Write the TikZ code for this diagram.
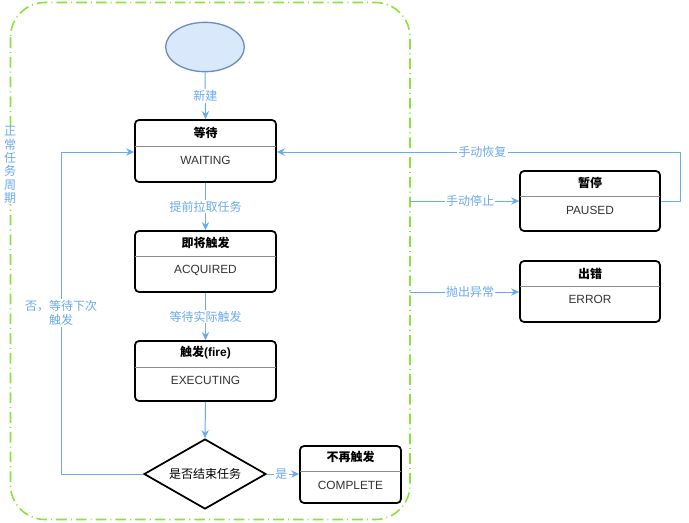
\documentclass[tikz,border=0pt]{standalone}
\usepackage{fontspec}
\setmainfont{Liberation Sans}
\newfontfamily\cjk{Noto Sans CJK SC}
\usetikzlibrary{arrows.meta,shapes.geometric,fit,shadows}
\definecolor{linkblue}{HTML}{6AAAEE}
\definecolor{labblue}{HTML}{6AAAEE}
\definecolor{limegreen}{HTML}{8CE23C}
\definecolor{ellfill}{HTML}{DAE8FC}
\definecolor{ellline}{HTML}{6C8EBF}
\definecolor{divgray}{HTML}{8C8C8C}
\definecolor{bodytext}{HTML}{333333}
\tikzset{
  container/.style={draw=limegreen, line width=1.2pt, rounded corners=26pt,
    dash pattern=on 8pt off 3pt on 0.8pt off 3pt},
  statebox/.style={draw=black, line width=1.3pt, rounded corners=3pt, fill=white,
    inner sep=0pt, drop shadow={shadow xshift=0.6pt, shadow yshift=-0.6pt, opacity=0.35}},
  divider/.style={draw=divgray, line width=0.6pt},
  headtext/.style={font=\cjk\bfseries\fontsize{9pt}{10pt}\selectfont, text=black, inner sep=0pt},
  bodytxt/.style={font=\fontsize{8.9pt}{10pt}\selectfont, text=bodytext, inner sep=0pt},
  link/.style={draw=linkblue, line width=0.75pt, -{Stealth[length=6pt,width=5.5pt]}},
  linklabel/.style={font=\cjk\fontsize{9pt}{10pt}\selectfont, text=labblue, fill=white,
    inner sep=1pt},
}
\begin{document}
\begin{tikzpicture}[x=0.75pt, y=-0.75pt]
\useasboundingbox (0,0) rectangle (689,522);
% container
\draw[container] (10.5,2.5) rectangle (410,519.5);
% start ellipse
\node[ellipse, draw=ellline, fill=ellfill, line width=1pt, minimum width=59pt, minimum height=37pt, inner sep=0pt] (start) at (205,47) {};
% WAITING
\node[statebox, fit={(135,120) (276,182)}] (wait) {};
\draw[divider] (135,146) -- (276,146);
\node[headtext] (waith) at (205.5,133) {等待};
\node[bodytxt] (waitb) at (205.5,160) {WAITING};
% ACQUIRED
\node[statebox, fit={(135,231) (276,292)}] (acq) {};
\draw[divider] (135,256) -- (276,256);
\node[headtext] (acqh) at (205.5,243) {即将触发};
\node[bodytxt] (acqb) at (205.5,270) {ACQUIRED};
% EXECUTING
\node[statebox, fit={(135,341) (276,401)}] (exe) {};
\draw[divider] (135,367) -- (276,367);
\node[headtext] (exeh) at (205.5,353) {触发{\normalfont\bfseries (fire)}};
\node[bodytxt] (exeb) at (205.5,380) {EXECUTING};
% decision
\node[diamond, draw=black, line width=1.3pt, fill=white, minimum width=91.5pt, minimum height=52.5pt, inner sep=0pt, aspect=1.74] (dec) at (205,474) {};
\node[font=\cjk\fontsize{9pt}{10pt}\selectfont, inner sep=0pt] (dect) at (205,474) {是否结束任务};
% COMPLETE
\node[statebox, fit={(300,446) (401,503)}] (comp) {};
\draw[divider] (300,471) -- (401,471);
\node[headtext] (comph) at (350.5,457) {不再触发};
\node[bodytxt] (compb) at (350.5,485) {COMPLETE};
% PAUSED
\node[statebox, fit={(520,171) (660,231)}] (pause) {};
\draw[divider] (520,196) -- (660,196);
\node[headtext] (pauseh) at (590,183) {暂停};
\node[bodytxt] (pauseb) at (590,210) {PAUSED};
% ERROR
\node[statebox, fit={(520,261) (660,322)}] (err) {};
\draw[divider] (520,286) -- (660,286);
\node[headtext] (errh) at (590,274) {出错};
\node[bodytxt] (errb) at (590,299) {ERROR};
% side coordinates
\coordinate (stopsrc) at (410,201);
\coordinate (errsrc) at (410,292);
\coordinate (loopL) at (61,474);
\coordinate (loopT) at (61,152);
\coordinate (resR) at (680,201);
\coordinate (resT) at (680,152);
% connectors
\draw[link] (start.south) -- node[linklabel, pos=0.5] {新建} (wait.north);
\draw[link] (wait.south) -- node[linklabel, pos=0.5] {提前拉取任务} (acq.north);
\draw[link] (acq.south) -- node[linklabel, pos=0.5] {等待实际触发} (exe.north);
\draw[link] (exe.south) -- (dec.north);
\draw[link] (dec.east) -- node[linklabel, pos=0.45] {是} (comp.west |- dec.east);
\draw[link] (dec.west) -- (loopL) -- node[linklabel, pos=0.5, align=center] {否，等待下次\\触发} (loopT) -- (wait.west |- loopT);
\draw[link] (pause.east |- resR) -- (resR) -- (resT) -- node[linklabel, pos=0.49] {手动恢复} (wait.east |- resT);
\draw[link] (stopsrc) -- node[linklabel, pos=0.55] {手动停止} (pause.west |- stopsrc);
\draw[link] (errsrc) -- node[linklabel, pos=0.55] {抛出异常} (err.west |- errsrc);
% vertical label
\node[linklabel, align=center, inner sep=0.5pt] (cycle) at (10,165) {正\\常\\任\\务\\周\\期};
\end{tikzpicture}
\end{document}
